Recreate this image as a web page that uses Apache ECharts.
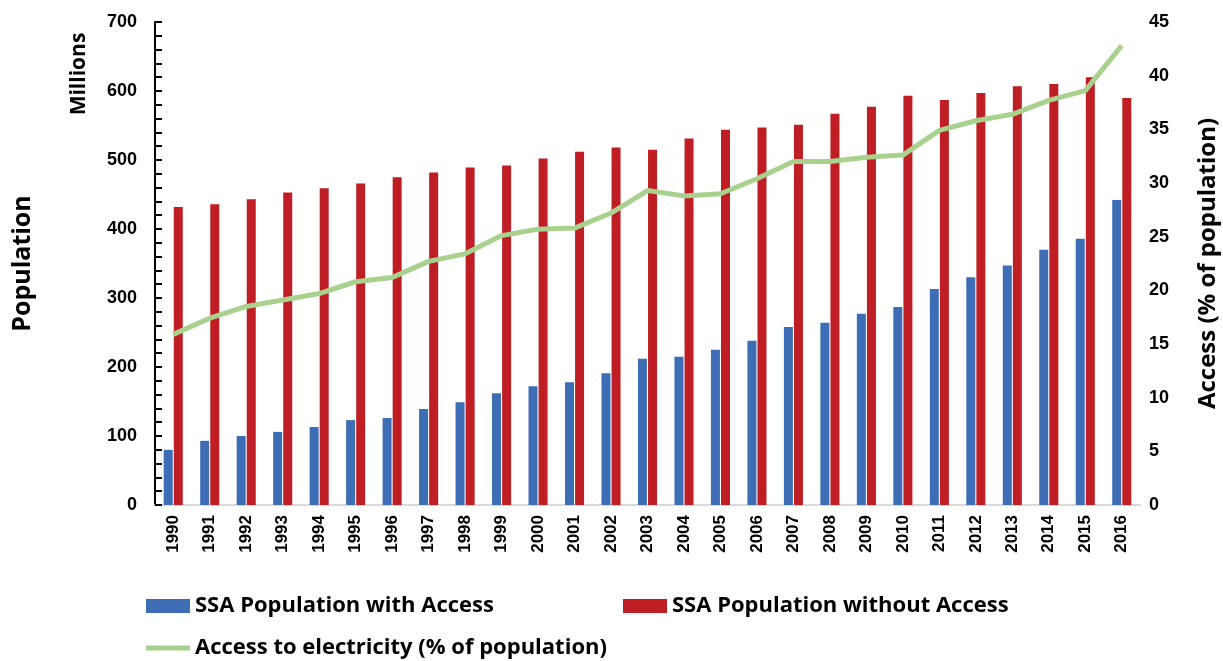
<!DOCTYPE html>
<html>
<head>
<meta charset="utf-8">
<script src="https://cdn.jsdelivr.net/npm/echarts@6/dist/echarts.min.js"></script>
<style>
  html, body { margin: 0; padding: 0; background: #fff; }
  #chart { width: 1223px; height: 661px; }
</style>
</head>
<body>
<div id="chart"></div>
<script>
// data
var years = ['1990','1991','1992','1993','1994','1995','1996','1997','1998','1999',
  '2000','2001','2002','2003','2004','2005','2006','2007','2008','2009',
  '2010','2011','2012','2013','2014','2015','2016'];
var withAccess = [80, 93, 100, 106, 113, 123, 126, 139, 149, 162,
  172, 178, 191, 212, 215, 225, 238, 258, 264, 277,
  287, 313, 330, 347, 370, 386, 442];
var withoutAccess = [432, 436, 443, 453, 459, 466, 475, 482, 489, 492,
  502, 512, 518, 515, 531, 544, 547, 551, 567, 577,
  593, 587, 597, 607, 610, 620, 590];
var accessPct = [15.9, 17.4, 18.5, 19.1, 19.7, 20.8, 21.2, 22.7, 23.4, 25.1,
  25.7, 25.8, 27.2, 29.3, 28.8, 29.0, 30.4, 32.0, 32.0, 32.4,
  32.6, 34.9, 35.8, 36.4, 37.7, 38.6, 42.8];

var FONT = "'Liberation Sans', 'DejaVu Sans', sans-serif";
var WIDE = "'Open Sans', 'Liberation Sans', sans-serif";

var legendText = { fontFamily: WIDE, fontWeight: 'bold', fontSize: 22, color: '#000' };

var myChart = echarts.init(document.getElementById('chart'));
myChart.setOption({
  animation: false,
  textStyle: { fontFamily: FONT },
  grid: { left: 155, right: 83, top: 22, bottom: 156, outerBoundsMode: 'none', containLabel: false },
  legend: [
    {
      data: ['SSA Population with Access'],
      left: 141, top: 590,
      itemWidth: 44, itemHeight: 14,
      icon: 'rect',
      textStyle: legendText
    },
    {
      data: ['SSA Population without Access'],
      left: 618, top: 590,
      itemWidth: 44, itemHeight: 14,
      icon: 'rect',
      textStyle: legendText
    },
    {
      data: ['Access to electricity (% of population)'],
      left: 141, top: 632,
      itemWidth: 44, itemHeight: 5,
      icon: 'rect',
      textStyle: legendText
    }
  ],
  graphic: [
    {
      type: 'text',
      x: 79, y: 74,
      rotation: Math.PI / 2,
      style: {
        text: 'Millions',
        fontFamily: WIDE, fontWeight: 'bold', fontSize: 21,
        fill: '#000', align: 'center', verticalAlign: 'middle'
      }
    }
  ],
  xAxis: {
    type: 'category',
    data: years,
    axisLine: { lineStyle: { color: '#d9d9d9', width: 2 } },
    axisTick: { show: false },
    axisLabel: {
      rotate: 90, margin: 10,
      fontFamily: FONT, fontWeight: 'bold', fontSize: 17, color: '#000'
    }
  },
  yAxis: [
    {
      type: 'value',
      min: 0, max: 700, interval: 100,
      name: 'Population',
      nameLocation: 'middle',
      nameRotate: 90,
      nameGap: 120,
      nameTextStyle: { fontFamily: WIDE, fontWeight: 'bold', fontSize: 25, color: '#000' },
      axisLine: { show: true, lineStyle: { color: '#000', width: 2 } },
      axisTick: { show: true, inside: true, length: 7, lineStyle: { color: '#000', width: 2 } },
      minorTick: { show: true, splitNumber: 5, length: 7, lineStyle: { color: '#000', width: 2 } },
      splitLine: { show: false },
      axisLabel: { margin: 18, fontFamily: FONT, fontWeight: 'bold', fontSize: 18, color: '#000' }
    },
    {
      type: 'value',
      min: 0, max: 45, interval: 5,
      name: 'Access (% of population)',
      nameLocation: 'middle',
      nameRotate: 90,
      nameGap: 56,
      nameTextStyle: { fontFamily: WIDE, fontWeight: 'bold', fontSize: 24, color: '#000' },
      axisLine: { show: false },
      axisTick: { show: false },
      splitLine: { show: false },
      axisLabel: { margin: 9, fontFamily: FONT, fontWeight: 'bold', fontSize: 18, color: '#000' }
    }
  ],
  series: [
    {
      name: 'SSA Population with Access',
      type: 'bar',
      data: withAccess,
      barWidth: 9,
      barGap: '12%',
      itemStyle: { color: '#3d6db5' }
    },
    {
      name: 'SSA Population without Access',
      type: 'bar',
      data: withoutAccess,
      barWidth: 9,
      itemStyle: { color: '#be1e24' }
    },
    {
      name: 'Access to electricity (% of population)',
      type: 'line',
      yAxisIndex: 1,
      data: accessPct,
      symbol: 'none',
      z: 5,
      lineStyle: { color: '#a9d18e', width: 5 },
      itemStyle: { color: '#a9d18e' }
    }
  ]
});
</script>
</body>
</html>
